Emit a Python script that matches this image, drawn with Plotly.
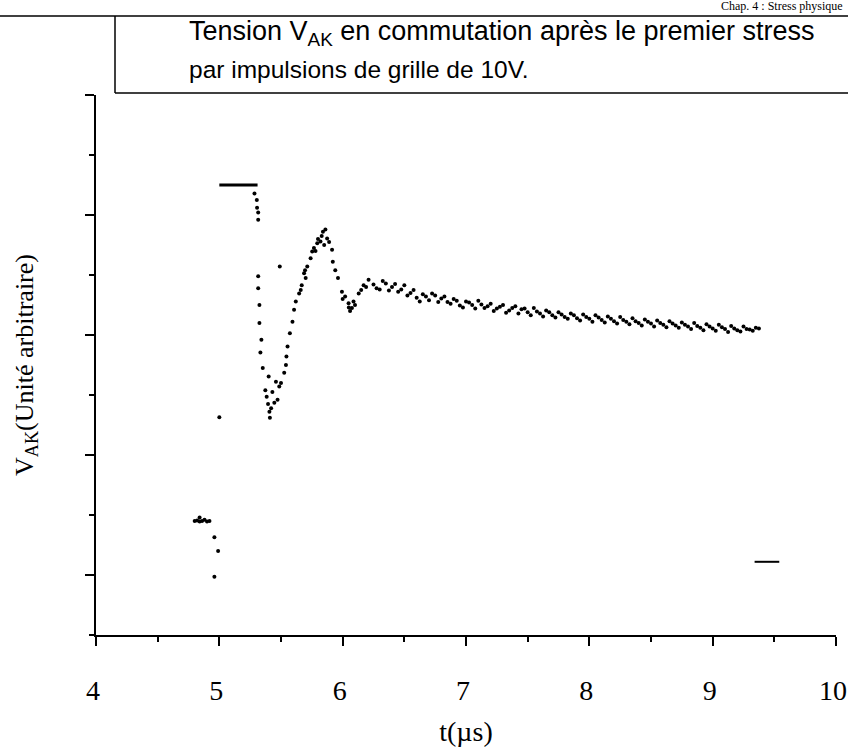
import plotly.graph_objects as go

# ---------------- data ----------------
t_pre = [4.80, 4.82, 4.84, 4.86, 4.88, 4.90, 4.92, 4.84]
v_pre = [1.90, 1.91, 1.89, 1.90, 1.92, 1.89, 1.90, 1.96]

t_fall = [4.96, 4.99, 4.96]
v_fall = [1.63, 1.40, 0.97]

t_stray = [5.00, 5.49]
v_stray = [3.63, 6.14]

t_high = [5.00, 5.31]
v_high = [7.50, 7.50]

t_end = [9.34, 9.54]
v_end = [1.22, 1.22]

t_ring = [5.285, 5.304, 5.306, 5.315, 5.315, 5.315, 5.315, 5.325, 5.325, 5.341, 5.333, 5.352,
          5.400, 5.373, 5.384, 5.406, 5.410, 5.420, 5.446, 5.472, 5.486, 5.459, 5.500, 5.430, 5.395,
          5.526, 5.540, 5.544, 5.553, 5.572, 5.593, 5.606, 5.620, 5.647, 5.668, 5.687, 5.695,
          5.713, 5.740, 5.753, 5.767, 5.794, 5.820, 5.840,
          5.874, 5.914, 5.920, 5.940, 5.962, 5.994, 6.020, 6.048, 6.075, 6.088, 6.130, 6.170, 6.210,
          5.800, 5.830, 5.860, 5.780, 5.850, 5.890, 5.700, 5.660, 6.000, 6.050, 6.100, 6.150, 6.190, 6.060]
v_ring = [7.36, 7.25, 7.12, 7.04, 6.92, 5.98, 5.78, 5.50, 5.20, 4.92, 4.71, 4.45,
          4.31, 4.08, 3.97, 3.72, 3.62, 3.78, 3.87, 3.92, 4.14, 4.22, 4.20, 4.05, 3.85,
          4.37, 4.50, 4.64, 4.81, 5.03, 5.22, 5.42, 5.56, 5.69, 5.83, 6.03, 6.08,
          6.14, 6.28, 6.39, 6.45, 6.53, 6.56, 6.72,
          6.61, 6.42, 6.22, 6.08, 5.95, 5.72, 5.64, 5.53, 5.45, 5.56, 5.69, 5.83, 5.92,
          6.60, 6.65, 6.76, 6.40, 6.50, 6.55, 5.95, 5.75, 5.60, 5.46, 5.50, 5.75, 5.80, 5.40]

t_tail_a = [6.25, 6.30, 6.35, 6.40, 6.45, 6.50, 6.55, 6.60, 6.65, 6.70, 6.75, 6.80, 6.85, 6.90,
            6.95, 7.00, 7.05, 7.10, 7.15, 7.20, 7.25, 7.30, 7.35, 7.40, 7.45, 7.50, 7.55, 7.60,
            7.65, 7.70, 7.75, 7.80, 7.85, 7.90, 7.95, 8.00, 8.05, 8.10, 8.15, 8.20, 8.25, 8.30,
            8.35, 8.40, 8.45, 8.50, 8.55, 8.60, 8.65, 8.70, 8.75, 8.80, 8.85, 8.90, 8.95, 9.00,
            9.05, 9.10, 9.15, 9.20, 9.25, 9.30, 9.35]
v_tail_a = [5.84, 5.76, 5.86, 5.80, 5.72, 5.83, 5.70, 5.62, 5.68, 5.58, 5.66, 5.61, 5.55, 5.60,
            5.49, 5.56, 5.50, 5.57, 5.45, 5.52, 5.44, 5.50, 5.41, 5.48, 5.43, 5.38, 5.45, 5.36,
            5.41, 5.33, 5.38, 5.30, 5.36, 5.28, 5.34, 5.27, 5.33, 5.25, 5.31, 5.23, 5.30, 5.22,
            5.28, 5.20, 5.26, 5.19, 5.24, 5.17, 5.23, 5.16, 5.21, 5.14, 5.20, 5.12, 5.18, 5.11,
            5.17, 5.10, 5.15, 5.08, 5.14, 5.09, 5.12]

t_tail_b = [6.275, 6.325, 6.375, 6.425, 6.475, 6.525, 6.575, 6.625, 6.675, 6.725, 6.775, 6.825,
            6.875, 6.925, 6.975, 7.025, 7.075, 7.125, 7.175, 7.225, 7.275, 7.325, 7.375, 7.425,
            7.475, 7.525, 7.575, 7.625, 7.675, 7.725, 7.775, 7.825, 7.875, 7.925, 7.975, 8.025,
            8.075, 8.125, 8.175, 8.225, 8.275, 8.325, 8.375, 8.425, 8.475, 8.525, 8.575, 8.625,
            8.675, 8.725, 8.775, 8.825, 8.875, 8.925, 8.975, 9.025, 9.075, 9.125, 9.175, 9.225,
            9.275, 9.325, 9.375]
v_tail_b = [5.78, 5.90, 5.74, 5.85, 5.76, 5.66, 5.75, 5.56, 5.64, 5.69, 5.55, 5.64,
            5.52, 5.57, 5.46, 5.54, 5.44, 5.51, 5.48, 5.40, 5.47, 5.37, 5.45, 5.36,
            5.44, 5.33, 5.39, 5.31, 5.38, 5.29, 5.34, 5.27, 5.33, 5.24, 5.30, 5.22,
            5.29, 5.21, 5.27, 5.19, 5.25, 5.18, 5.23, 5.16, 5.22, 5.14, 5.20, 5.13,
            5.19, 5.12, 5.17, 5.10, 5.15, 5.08, 5.14, 5.07, 5.13, 5.05, 5.11, 5.06,
            5.10, 5.07, 5.11]

x_ticks = [4, 5, 6, 7, 8, 9, 10]
x_tick_text = ["4", "5", "6", "7", "8", "9", "10"]

# ---------------- figure ----------------
SERIF = "Liberation Serif, Times New Roman, serif"
SANS = "Liberation Sans, Arial, sans-serif"

W, H = 848, 755
L, R, T, B = 96, 12, 95, 120
pw, ph = W - L - R, H - T - B


def px(xp):
    return (xp - L) / pw


def py(yp):
    return (H - B - yp) / ph


fig = go.Figure()
dot = dict(color="black", size=4)
for tx, vy in [(t_pre, v_pre), (t_fall, v_fall), (t_stray, v_stray), (t_ring, v_ring),
               (t_tail_a, v_tail_a), (t_tail_b, v_tail_b)]:
    fig.add_trace(go.Scatter(x=tx, y=vy, mode="markers", marker=dot,
                             showlegend=False, hoverinfo="skip"))
fig.add_trace(go.Scatter(x=t_high, y=v_high, mode="lines", line=dict(color="black", width=3),
                         showlegend=False, hoverinfo="skip"))
fig.add_trace(go.Scatter(x=t_end, y=v_end, mode="lines", line=dict(color="black", width=2),
                         showlegend=False, hoverinfo="skip"))

fig.update_layout(
    width=W, height=H,
    margin=dict(l=L, r=R, t=T, b=B, autoexpand=False),
    paper_bgcolor="white", plot_bgcolor="white",
    xaxis=dict(
        range=[4, 10], tickvals=x_ticks, ticktext=x_tick_text, automargin=False,
        ticks="outside", ticklen=9, tickwidth=1.5, tickcolor="black",
        minor=dict(ticks="outside", ticklen=5, dtick=0.5, tick0=4, tickcolor="black", tickwidth=1.5),
        showline=True, linecolor="black", linewidth=2, showgrid=False, zeroline=False,
        tickfont=dict(family=SERIF, size=28, color="black"), ticklabelstandoff=20,
        ticklabelshift=-3, ticklabeloverflow="allow",
        title=dict(text="t(µs)", font=dict(family=SERIF, size=28, color="black"), standoff=17),
    ),
    yaxis=dict(
        range=[0, 9], tick0=1, dtick=2, automargin=False,
        ticks="outside", ticklen=9, tickwidth=1.5, tickcolor="black",
        minor=dict(ticks="outside", ticklen=5, dtick=1, tick0=0, tickcolor="black", tickwidth=1.5),
        showticklabels=False,
        showline=True, linecolor="black", linewidth=2, showgrid=False, zeroline=False,
        title=dict(text="V<sub>AK</sub>(Unité arbitraire)",
                   font=dict(family=SERIF, size=26, color="black"), standoff=44),
    ),
)

# caption box and header
fig.add_shape(type="line", xref="paper", yref="paper", x0=px(0), x1=px(W), y0=py(16), y1=py(16),
              line=dict(color="black", width=1.5))
fig.add_shape(type="line", xref="paper", yref="paper", x0=px(115), x1=px(115), y0=py(93), y1=py(16),
              line=dict(color="black", width=1.5))
fig.add_shape(type="line", xref="paper", yref="paper", x0=px(115), x1=px(W), y0=py(93), y1=py(93),
              line=dict(color="black", width=1.5))
fig.add_annotation(xref="paper", yref="paper", x=px(W - 3), y=py(15), xanchor="right", yanchor="bottom",
                   text="Chap. 4 : Stress physique", showarrow=False,
                   font=dict(family=SERIF, size=12, color="black"))
fig.add_annotation(xref="paper", yref="paper", x=px(187), y=py(33),
                   xanchor="left", yanchor="middle", showarrow=False,
                   text="Tension V<sub>AK</sub> en commutation après le premier stress",
                   font=dict(family=SANS, size=27, color="black"))
fig.add_annotation(xref="paper", yref="paper", x=px(187), y=py(69),
                   xanchor="left", yanchor="middle", showarrow=False,
                   text="par impulsions de grille de 10V.",
                   font=dict(family=SANS, size=24.5, color="black"))

fig.write_html("out.html", config={"displayModeBar": False},
               post_script="document.body.style.margin='0px';document.body.style.padding='0px';")
